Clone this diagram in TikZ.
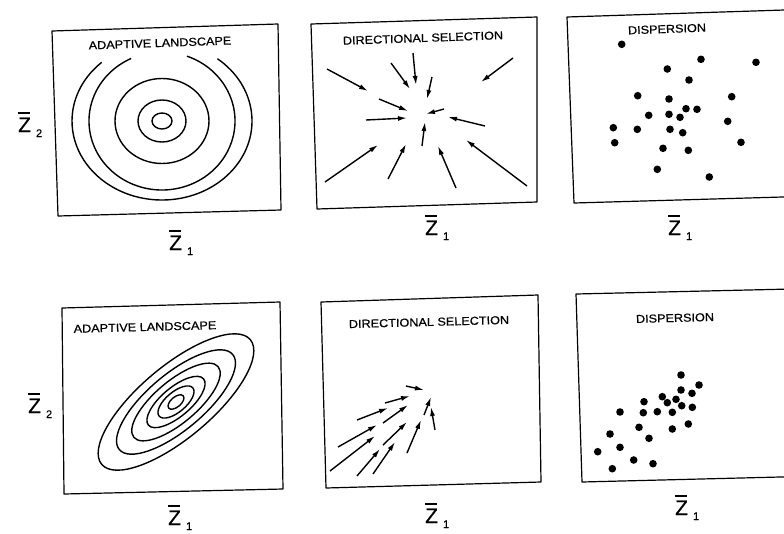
\documentclass[tikz,border=0pt]{standalone}
\usepackage{fontspec}
\setmainfont{Liberation Sans}
\newfontfamily\lblfont[FakeBold=0.6]{Liberation Sans}
\usetikzlibrary{arrows.meta}
\newcommand{\myZ}[1]{\lblfont\fontsize{21}{21}\selectfont\rlap{\raisebox{18.5pt}{\rule{12pt}{1.2pt}}}Z\hspace{5pt}\raisebox{-5pt}{\fontsize{11}{11}\selectfont #1}}
\newcommand{\mytitle}[1]{\lblfont\fontsize{11.5}{12}\selectfont\scalebox{1.1}[1]{#1}}
\begin{document}
\begin{tikzpicture}[x=1pt,y=-1pt,
  frame/.style={line width=1.2pt, line join=round},
  contour/.style={line width=1.4pt},
  vec/.style={line width=1.4pt, -{Latex[length=9pt,width=5pt]}},
  ttl/.style={inner sep=0pt},
  zl/.style={inner sep=0pt, anchor=base west}]
\useasboundingbox (0,0) rectangle (784,533);
\clip (0,0) rectangle (784,533);

% ---------- top-left: adaptive landscape ----------
\draw[frame] (52,31) -- (278,24) -- (281,210) -- (58,216) -- cycle;
\node[ttl, rotate=2] (t1) at (160,43) {\mytitle{ADAPTIVE LANDSCAPE}};
\coordinate (c1) at (162,121);
\draw[contour] (c1) ellipse [x radius=10, y radius=8];
\draw[contour] (c1) ellipse [x radius=24, y radius=21];
\draw[contour] (c1) ellipse [x radius=47, y radius=42.5];
\draw[contour] ([shift={(-70:73 and 69)}]c1) arc[start angle=-70, end angle=245, x radius=73, y radius=69];
\draw[contour] ([shift={(-52:90 and 79)}]c1) arc[start angle=-52, end angle=228, x radius=90, y radius=79];
\node[zl] (z2a) at (18,132) {\myZ{2}};
\node[zl] (z1a) at (169,250) {\myZ{1}};

% ---------- top-middle: directional selection ----------
\draw[frame] (311,24) -- (537,17) -- (537,202) -- (317,209) -- cycle;
\node[ttl, rotate=2] (t2) at (423,38) {\mytitle{DIRECTIONAL SELECTION}};
\draw[vec] (327,69) -- (368,91);
\draw[vec] (391,63) -- (410,89);
\draw[vec] (413,53) -- (416,85);
\draw[vec] (432,77) -- (427,99);
\draw[vec] (513,58) -- (481,82);
\draw[vec] (379,99) -- (408,111);
\draw[vec] (366,120) -- (407,118);
\draw[vec] (444,109) -- (426,114);
\draw[vec] (485,126) -- (448,117);
\draw[vec] (422,146) -- (425,122);
\draw[vec] (325,182) -- (378,145);
\draw[vec] (388,179) -- (406,144);
\draw[vec] (456,188) -- (438,146);
\draw[vec] (527,186) -- (466,140);
\node[zl] (z1b) at (425,235) {\myZ{1}};

% ---------- top-right: dispersion ----------
\draw[frame] (800,9.5) -- (567,17) -- (574,203) -- (800,196.5);
\node[ttl, rotate=2] (t3) at (667,29) {\mytitle{DISPERSION}};
\foreach \p in {(621.7,44.3),(701,59.3),(756,62.3),(667.3,69),(689,80),
  (637.7,95.7),(669,99),(731.7,96.7),(686,108.7),(697,109.3),(648.7,115.3),
  (669,114.3),(680,117.3),(727.7,121.3),(613.3,127.7),(637.3,129.3),
  (670,129.3),(682.7,132.7),(614.7,142.7),(741,142.3),(663,148.3),
  (688.3,150.3),(657.3,169.3),(709.3,177)}
  \fill \p circle[radius=3.8];
\node[zl] (z1c) at (668,235) {\myZ{1}};

% ---------- bottom-left: adaptive landscape ----------
\draw[frame] (62,308) -- (280,302) -- (283,489) -- (64,494) -- cycle;
\node[ttl, rotate=1.5] (t4) at (145,327) {\mytitle{ADAPTIVE LANDSCAPE}};
\coordinate (c4) at (176,402);
\begin{scope}[rotate around={40:(c4)}]
\draw[contour] (c4) ellipse [x radius=97, y radius=36];
\draw[contour] (c4) ellipse [x radius=74, y radius=28];
\draw[contour] (c4) ellipse [x radius=55, y radius=21];
\draw[contour] (c4) ellipse [x radius=36, y radius=14.5];
\draw[contour] (c4) ellipse [x radius=22, y radius=10];
\draw[contour] (c4) ellipse [x radius=9.5, y radius=5];
\end{scope}
\node[zl] (z2d) at (28,413) {\myZ{2}};
\node[zl] (z1d) at (168,525) {\myZ{1}};

% ---------- bottom-middle: directional selection ----------
\draw[frame] (321,302) -- (538,295) -- (541,482) -- (326,488) -- cycle;
\node[ttl, rotate=1.5] (t5) at (429,322) {\mytitle{DIRECTIONAL SELECTION}};
\draw[vec] (406,386) -- (424,390);
\draw[vec] (385,403) -- (410,396);
\draw[vec] (357,420) -- (388,408);
\draw[vec] (383,423) -- (408,405);
\draw[vec] (338,447) -- (377,425);
\draw[vec] (330,471) -- (375,436);
\draw[vec] (357,476) -- (380,449);
\draw[vec] (383,445) -- (407,422);
\draw[vec] (373,474) -- (395,442);
\draw[vec] (407,453) -- (421,420);
\draw[vec] (424,415) -- (431,397);
\draw[vec] (435,430) -- (431,407);
\node[zl] (z1e) at (425,523) {\myZ{1}};

% ---------- bottom-right: dispersion ----------
\draw[frame] (800,288.8) -- (576,294) -- (582,482) -- (800,476.5);
\node[ttl, rotate=1.5] (t6) at (675,318) {\mytitle{DISPERSION}};
\foreach \p in {(681,375),(699,385),(681,390),(692,393.3),(644,401.7),
  (662.3,396.7),(667.3,402.7),(676,399.3),(681.7,405.7),(692.3,407.3),
  (620,412),(643.3,412.7),(657.3,411.7),(672.3,412.3),(688.3,424),
  (639,427.3),(672.3,429),(610,434),(649,438.3),(620,447.3),(597.7,451.7),
  (633.7,460),(612.3,468.7),(653,463.7)}
  \fill \p circle[radius=3.8];
\node[zl] (z1f) at (675,515) {\myZ{1}};
\end{tikzpicture}
\end{document}
